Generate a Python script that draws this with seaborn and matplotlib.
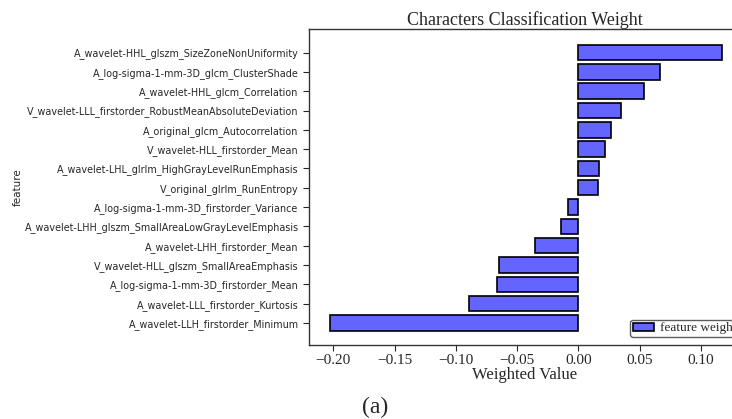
import matplotlib
matplotlib.use("Agg")
import matplotlib.pyplot as plt
import seaborn as sns
import pandas as pd

features = [
    "A_wavelet-HHL_glszm_SizeZoneNonUniformity",
    "A_log-sigma-1-mm-3D_glcm_ClusterShade",
    "A_wavelet-HHL_glcm_Correlation",
    "V_wavelet-LLL_firstorder_RobustMeanAbsoluteDeviation",
    "A_original_glcm_Autocorrelation",
    "V_wavelet-HLL_firstorder_Mean",
    "A_wavelet-LHL_glrlm_HighGrayLevelRunEmphasis",
    "V_original_glrlm_RunEntropy",
    "A_log-sigma-1-mm-3D_firstorder_Variance",
    "A_wavelet-LHH_glszm_SmallAreaLowGrayLevelEmphasis",
    "A_wavelet-LHH_firstorder_Mean",
    "V_wavelet-HLL_glszm_SmallAreaEmphasis",
    "A_log-sigma-1-mm-3D_firstorder_Mean",
    "A_wavelet-LLL_firstorder_Kurtosis",
    "A_wavelet-LLH_firstorder_Minimum",
]
weights = [0.117, 0.0663, 0.0538, 0.0348, 0.027, 0.0215, 0.0167, 0.0165,
           -0.0083, -0.0137, -0.0351, -0.0649, -0.0665, -0.0888, -0.203]
xticks = [-0.20, -0.15, -0.10, -0.05, 0.00, 0.05, 0.10]

df = pd.DataFrame({"feature": features, "weight": weights})

sns.set_style("ticks")
plt.rcParams["font.family"] = ["DejaVu Sans"]

fig = plt.figure(figsize=(7.32, 4.19), dpi=100)
ax = fig.add_axes([309 / 732, 1 - 345 / 419, (740 - 309) / 732, (345 - 29) / 419])

sns.barplot(data=df, x="weight", y="feature", orient="h", ax=ax,
            color="#6464ff", saturation=1, edgecolor="black", linewidth=1.2,
            width=0.8, label="feature weight")

n = len(features)
ax.set_ylim(n - 1 + 1.14, -1.22)
ax.set_xlim(-0.2198, 0.132)
ax.set_xticks(xticks)
ax.set_xticklabels([f"{t:.2f}".replace("-", "\u2212") for t in xticks],
                   family="Liberation Serif", fontsize=11)
ax.tick_params(axis="y", labelsize=6.9, length=4)
ax.tick_params(axis="x", length=4, pad=2.5)
ax.set_ylabel("feature", fontsize=7.5)
ax.yaxis.set_label_coords(-0.665, 0.5)
ax.set_xlabel("Weighted Value", family="Liberation Serif", fontsize=12, labelpad=0)
ax.set_title("Characters Classification Weight", family="Liberation Serif",
             fontsize=13, pad=3)
for s in ax.spines.values():
    s.set_linewidth(1.0)
    s.set_color("#333333")

leg = ax.legend(loc="lower left", bbox_to_anchor=(0.745, 0.025),
                prop={"family": "Liberation Serif", "size": 9.5},
                frameon=True, fancybox=True, handlelength=1.6, handleheight=0.5,
                handletextpad=0.45, borderpad=0.2, borderaxespad=0)
leg.get_frame().set_edgecolor("#333333")

fig.text(375 / 732, 1 - 407 / 419, "(a)", family="Liberation Serif", fontsize=17,
         ha="center", va="center")

fig.savefig("out.png", dpi=100)
